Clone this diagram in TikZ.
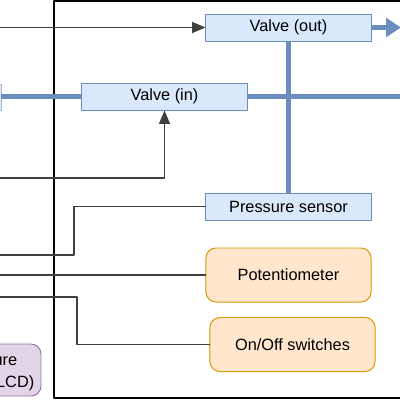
\documentclass[tikz,border=0pt]{standalone}
\usepackage{fontspec}
\setmainfont{Liberation Sans}
\usetikzlibrary{arrows,arrows.meta}

\definecolor{valvefill}{HTML}{DAE8FC}
\definecolor{valveline}{HTML}{6C8EBF}
\definecolor{inputfill}{HTML}{FFE6CC}
\definecolor{inputline}{HTML}{D79B00}
\definecolor{lcdfill}{HTML}{E1D5E7}
\definecolor{lcdline}{HTML}{9673A6}

\begin{document}
\begin{tikzpicture}[line cap=round,line join=round,>=triangle 45,x=0.025cm,y=-0.025cm,
  part/.style={draw=valveline,fill=valvefill,line width=0.7pt,minimum width=4.125cm,minimum height=0.675cm,inner sep=0pt},
  knob/.style={draw=inputline,fill=inputfill,line width=0.7pt,rounded corners=0.25cm,minimum width=4.125cm,minimum height=1.35cm,inner sep=0pt},
  wire/.style={draw=black!75,line width=1.2pt},
  pipe/.style={draw=valveline,line width=4.2pt,line cap=butt},
  every node/.style={font=\fontsize{11.6}{14}\selectfont}]
\useasboundingbox (0,0) rectangle (400,400);
\clip (0,0) rectangle (400,400);
%\draw [help lines] (0,0) grid (400,400);
% controller frame
\draw [line width=1.2pt] (54,1) rectangle (420,398);
% LCD box, mostly cut off
\draw [draw=lcdline,fill=lcdfill,line width=0.7pt,rounded corners=0.25cm] (-80,344) rectangle (41,396);
\node [anchor=east,inner sep=0pt] (lcdtop) at (17.5,361) {ure};
\node [anchor=east,inner sep=0pt] (lcdbot) at (34.5,383) {(LCD)};
% tank edge on the left
\draw [draw=valveline!60,fill=valvefill,line width=0.7pt] (-40,84) rectangle (1.5,110);

\node [part] (valveout) at (288.5,27.5) {Valve (out)};
\node [part] (valvein) at (164.5,96.5) {Valve (in)};
\node [part] (sensor) at (288.5,206.5) {Pressure sensor};
\node [knob] (poti) at (288.5,275) {Potentiometer};
\node [knob] (switches) at (292.5,344.5) {On/Off switches};

\coordinate (outend) at (401,27.5);
\coordinate (tankin) at (1.5,96.5);
\coordinate (pipeend) at (410,96.5);
\coordinate (ctlA) at (-5,27.5);
\coordinate (ctlB) at (-5,178);
\coordinate (ctlC) at (-5,255);
\coordinate (ctlD) at (-5,275);
\coordinate (ctlE) at (-5,297);

% pipes
\draw [pipe] (tankin) -- (valvein.west);
\draw [pipe] (valvein.east) -- (pipeend);
\draw [pipe] (valveout.south) -- (sensor.north);
\draw [pipe,-{Triangle[length=0.37cm,width=0.46cm]}] (valveout.east) -- (outend);
% signals
\draw [wire,->] (ctlA) -- (valveout.west);
\draw [wire,->] (ctlB) -| (valvein.south);
\draw [wire] (ctlC) -- (74,255) |- (sensor.west);
\draw [wire] (ctlD) -- (poti.west);
\draw [wire] (ctlE) -- (77,297) |- (switches.west);
\end{tikzpicture}
\end{document}
